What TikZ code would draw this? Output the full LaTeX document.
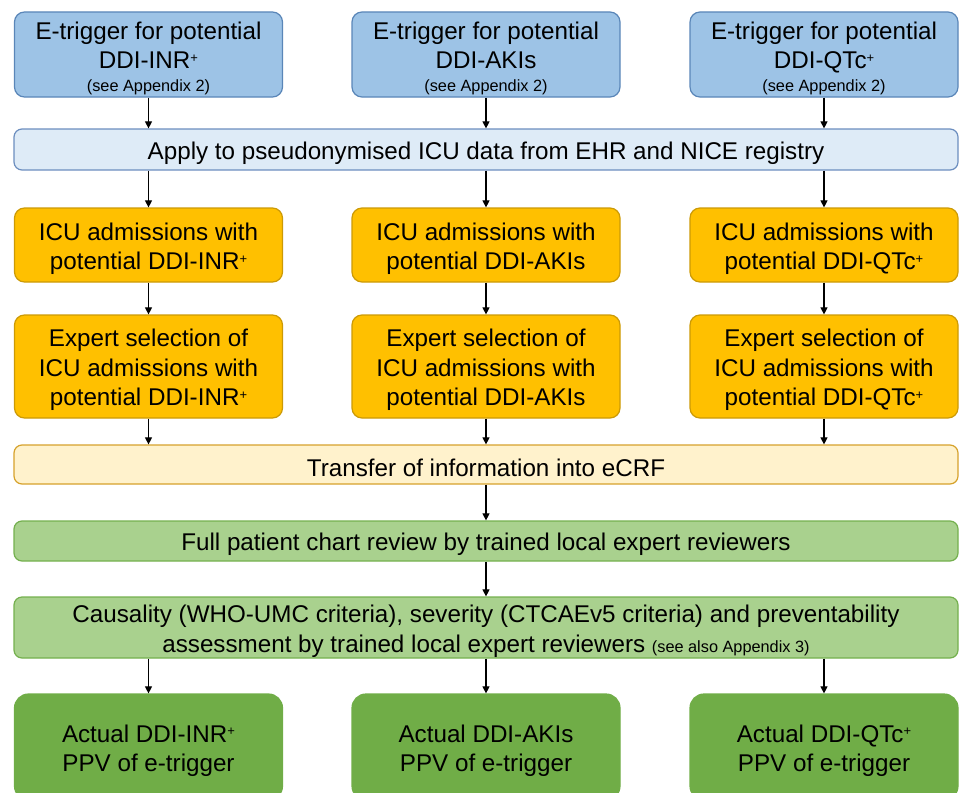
\documentclass[tikz,border=0pt]{standalone}
\usepackage{fontspec}
\setmainfont{Liberation Sans}
\usetikzlibrary{arrows.meta}

\definecolor{trigfill}{HTML}{9DC3E6}
\definecolor{trigline}{HTML}{5A86B8}
\definecolor{applyfill}{HTML}{DEEBF7}
\definecolor{applyline}{HTML}{6C8EBF}
\definecolor{icufill}{HTML}{FFC000}
\definecolor{iculine}{HTML}{CC9A06}
\definecolor{crffill}{HTML}{FFF2CC}
\definecolor{crfline}{HTML}{D6A22C}
\definecolor{revfill}{HTML}{A9D18E}
\definecolor{revline}{HTML}{74B04E}
\definecolor{outfill}{HTML}{70AD47}

\newcommand{\bigtxt}{\fontsize{24.2}{29.5}\selectfont}
\newcommand{\smalltxt}{\fontsize{16.3}{19}\selectfont}
% small raised plus sign after INR / QTc
\newcommand{\plus}{\raisebox{6.5pt}{\fontsize{13}{13}\selectfont +}}
% strut on the first line that sets the text block a little lower
\newcommand{\topstrut}{\rule{0pt}{24.6pt}}

\tikzset{
  box/.style={rounded corners=10pt, line width=1.2pt, align=center,
    inner sep=0pt, font=\bigtxt, text=black},
  colbox/.style={box, minimum width=268pt},
  widebox/.style={box, rounded corners=8pt, minimum width=944pt},
  trig/.style={colbox, fill=trigfill, draw=trigline, minimum height=85pt},
  icu/.style={colbox, fill=icufill, draw=iculine},
  outcome/.style={colbox, rounded corners=14pt, fill=outfill, draw=outfill, minimum height=106pt},
  arr/.style={-{Triangle[length=7pt,width=7pt]}, line width=1.1pt}
}

\begin{document}
\begin{tikzpicture}[x=1pt,y=-1pt]
\useasboundingbox (0,0) rectangle (960,792);
\clip (0,0) rectangle (960,792);

% e-triggers
\node[trig] (t1) at (148.5,54.5) {\topstrut E-trigger for potential\\DDI-INR\plus\\[-7pt]{\smalltxt (see Appendix 2)}};
\node[trig] (t2) at (486,54.5) {\topstrut E-trigger for potential\\DDI-AKIs\\[-7pt]{\smalltxt (see Appendix 2)}};
\node[trig] (t3) at (824,54.5) {\topstrut E-trigger for potential\\DDI-QTc\plus\\[-7pt]{\smalltxt (see Appendix 2)}};

% data source
\node[widebox, fill=applyfill, draw=applyline, minimum height=41pt] (apply) at (486,149.5)
  {\topstrut Apply to pseudonymised ICU data from EHR and NICE registry};

% admissions
\node[icu, minimum height=74pt] (i1) at (148.5,245) {\topstrut ICU admissions with\\potential DDI-INR\plus};
\node[icu, minimum height=74pt] (i2) at (486,245) {\topstrut ICU admissions with\\potential DDI-AKIs};
\node[icu, minimum height=74pt] (i3) at (824,245) {\topstrut ICU admissions with\\potential DDI-QTc\plus};

% expert selection
\node[icu, minimum height=103pt] (e1) at (148.5,366.5) {\topstrut Expert selection of\\ICU admissions with\\potential DDI-INR\plus};
\node[icu, minimum height=103pt] (e2) at (486,366.5) {\topstrut Expert selection of\\ICU admissions with\\potential DDI-AKIs};
\node[icu, minimum height=103pt] (e3) at (824,366.5) {\topstrut Expert selection of\\ICU admissions with\\potential DDI-QTc\plus};

% review steps
\node[widebox, fill=crffill, draw=crfline, minimum height=39pt] (crf) at (486,464.5)
  {\topstrut Transfer of information into eCRF};
\node[widebox, fill=revfill, draw=revline, minimum height=40pt] (chart) at (486,541)
  {\topstrut Full patient chart review by trained local expert reviewers};
\node[widebox, fill=revfill, draw=revline, minimum height=61pt] (caus) at (486,627.5)
  {\topstrut Causality (WHO-UMC criteria), severity (CTCAEv5 criteria) and preventability\\
   assessment by trained local expert reviewers {\smalltxt (see also Appendix 3)}};

% outcomes
\node[outcome] (a1) at (148.5,747) {\topstrut Actual DDI-INR\plus\\PPV of e-trigger};
\node[outcome] (a2) at (486,747) {\topstrut Actual DDI-AKIs\\PPV of e-trigger};
\node[outcome] (a3) at (824,747) {\topstrut Actual DDI-QTc\plus\\PPV of e-trigger};

% connectors
\foreach \k in {1,2,3} {
  \draw[arr] (t\k.south) -- (t\k.south |- apply.north);
  \draw[arr] (i\k.north |- apply.south) -- (i\k.north);
  \draw[arr] (i\k.south) -- (e\k.north);
  \draw[arr] (e\k.south) -- (e\k.south |- crf.north);
  \draw[arr] (a\k.north |- caus.south) -- (a\k.north);
}
\draw[arr] (crf.south) -- (chart.north);
\draw[arr] (chart.south) -- (caus.north);
\end{tikzpicture}
\end{document}
